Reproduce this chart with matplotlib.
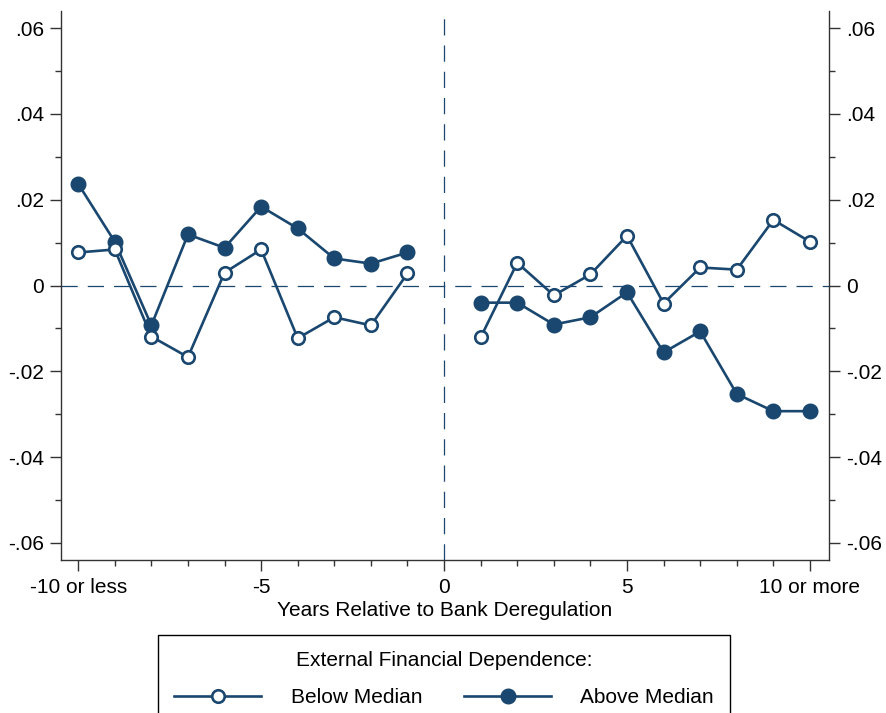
import matplotlib
matplotlib.use("Agg")
import matplotlib.pyplot as plt
from matplotlib.ticker import FixedLocator, MultipleLocator, FuncFormatter
from matplotlib.lines import Line2D

plt.rcParams['font.family'] = ['Liberation Sans', 'DejaVu Sans']

years = [-10, -9, -8, -7, -6, -5, -4, -3, -2, -1, 1, 2, 3, 4, 5, 6, 7, 8, 9, 10]
below_median = [0.0077, 0.0084, -0.0119, -0.0167, 0.0030, 0.0084, -0.0123, -0.0074, -0.0093, 0.0028,
                -0.0121, 0.0053, -0.0023, 0.0026, 0.0116, -0.0042, 0.0042, 0.0037, 0.0153, 0.0102]
above_median = [0.0237, 0.0102, -0.0093, 0.0119, 0.0088, 0.0184, 0.0133, 0.0063, 0.0051, 0.0077,
                -0.0040, -0.0040, -0.0091, -0.0074, -0.0016, -0.0156, -0.0107, -0.0253, -0.0293, -0.0293]
x_tick_values = [-10, -5, 0, 5, 10]
x_tick_labels = ["-10 or less", "-5", "0", "5", "10 or more"]
y_tick_values = [-0.06, -0.04, -0.02, 0, 0.02, 0.04, 0.06]

navy = "#1a476f"
fs = 15

fig = plt.figure(figsize=(8.86, 7.13), dpi=100)
ax = fig.add_axes([61 / 886, 1 - 560 / 713, (829 - 61) / 886, (560 - 11) / 713])

# reference lines at zero
ax.axhline(0, color=navy, lw=0.9, dashes=(13, 8), zorder=1)
ax.axvline(0, color=navy, lw=0.9, dashes=(13, 8), zorder=1)

pre = [i for i, y in enumerate(years) if y < 0]
post = [i for i, y in enumerate(years) if y > 0]

for idx in (pre, post):
    xs = [years[i] for i in idx]
    ax.plot(xs, [above_median[i] for i in idx], color=navy, lw=1.9, marker='o',
            markersize=10.5, markerfacecolor=navy, markeredgecolor=navy, zorder=3)
    ax.plot(xs, [below_median[i] for i in idx], color=navy, lw=1.9, marker='o',
            markersize=9, markerfacecolor='white', markeredgecolor=navy,
            markeredgewidth=1.9, zorder=4)

ax.set_xlim(-10.47, 10.52)
ax.set_ylim(-0.064, 0.064)

ax.spines['top'].set_visible(False)
for side in ('left', 'right', 'bottom'):
    ax.spines[side].set_color('#333333')
    ax.spines[side].set_linewidth(1.0)

ax.xaxis.set_major_locator(FixedLocator(x_tick_values))
ax.set_xticklabels(x_tick_labels)
ax.xaxis.set_minor_locator(MultipleLocator(1))
ax.yaxis.set_major_locator(FixedLocator(y_tick_values))
ax.yaxis.set_minor_locator(MultipleLocator(0.01))


def stata_fmt(v, pos):
    if abs(v) < 1e-12:
        return "0"
    return f"{v:.2f}".replace("0.", ".", 1)


ax.yaxis.set_major_formatter(FuncFormatter(stata_fmt))
ax.tick_params(axis='y', which='both', left=True, right=True, labelleft=True, labelright=True,
               direction='out', color='#333333')
ax.tick_params(axis='x', which='both', color='#333333')
ax.tick_params(axis='both', which='major', length=8, width=1.0, labelsize=fs, pad=4)
ax.tick_params(axis='x', which='major', pad=5)
ax.tick_params(axis='both', which='minor', length=4.5, width=1.0)

ax.set_xlabel("Years Relative to Bank Deregulation", fontsize=fs, labelpad=3)

handles = [
    Line2D([], [], color=navy, lw=1.9, marker='o', markersize=9, markerfacecolor='white',
           markeredgecolor=navy, markeredgewidth=1.9),
    Line2D([], [], color=navy, lw=1.9, marker='o', markersize=10.5, markerfacecolor=navy,
           markeredgecolor=navy),
]
leg = fig.legend(handles, ["Below Median", "Above Median"], ncol=2,
                 title="External Financial Dependence:", title_fontsize=fs, fontsize=fs,
                 loc='upper center', bbox_to_anchor=(444 / 886, 1 - 635 / 713),
                 borderaxespad=0,
                 frameon=True, fancybox=False, edgecolor='black', framealpha=1,
                 handlelength=4.2, handletextpad=1.4, columnspacing=2.0,
                 borderpad=0.75, labelspacing=0.9, numpoints=1)
leg.get_frame().set_linewidth(1.0)

fig.savefig("out.png", dpi=100)
